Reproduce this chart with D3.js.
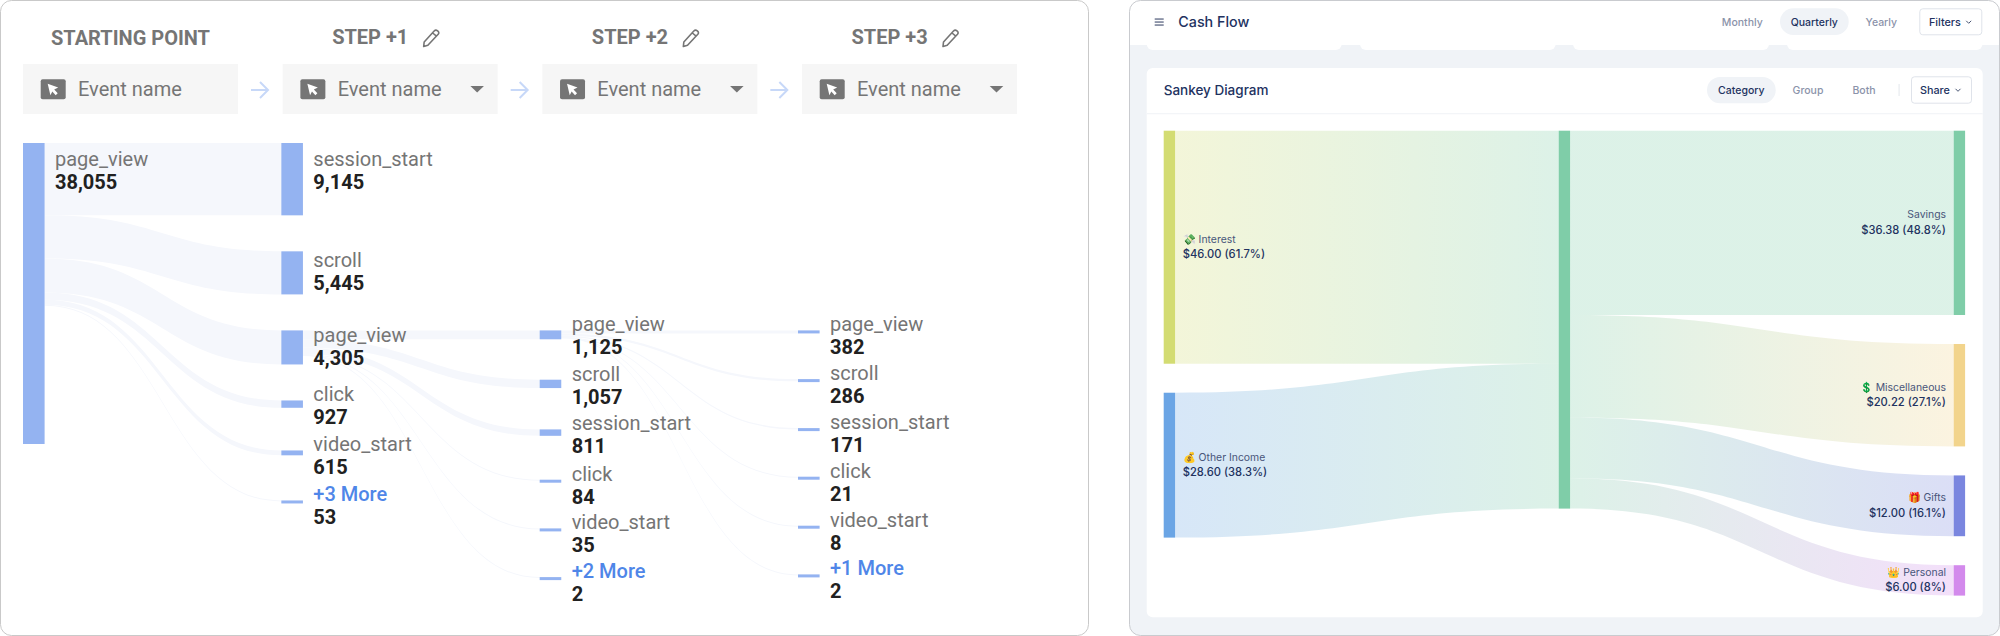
<!DOCTYPE html>
<html><head><meta charset="utf-8">
<style>html,body{margin:0;padding:0;background:#fff}svg{display:block}</style>
<script src="https://cdn.jsdelivr.net/npm/d3@7"></script>
</head><body><svg id="c" width="2000" height="636"></svg>
<script>
// ---------- funnel data ----------
const stepHeaders = ["STARTING POINT","STEP +1","STEP +2","STEP +3"];
const boxLabel = "Event name";
const startLabels = ["page_view"];
const startCounts = [38055];
const step1Labels = ["session_start","scroll","page_view","click","video_start","+3 More"];
const step1Counts = [9145,5445,4305,927,615,53];
const step2Labels = ["page_view","scroll","session_start","click","video_start","+2 More"];
const step2Counts = [1125,1057,811,84,35,2];
const step3Labels = ["page_view","scroll","session_start","click","video_start","+1 More"];
const step3Counts = [382,286,171,21,8,2];
// ---------- cash-flow data ----------
const appTitle = "Cash Flow", cardTitle = "Sankey Diagram";
const periodTabs = ["Monthly","Quarterly","Yearly"];
const viewTabs = ["Category","Group","Both"];
const incomeNames = ["💸 Interest","💰 Other Income"];
const incomeValues = [46.00,28.60];
const incomePct = [61.7,38.3];
const spendNames = ["Savings","💲 Miscellaneous","🎁 Gifts","👑 Personal"];
const spendValues = [36.38,20.22,12.00,6.00];
const spendPct = [48.8,27.1,16.1,8];

const svg = d3.select("#c");
const defs = svg.append("defs");
const ROBOTO = "Roboto, sans-serif", INTER = "Inter, sans-serif";
const NAVY = "#22325f", MUTED = "#8b93aa";

function txt(g,x,y,s,o={}){
  return g.append("text").attr("x",x).attr("y",y).text(s)
    .attr("font-family",o.f||INTER).attr("font-size",o.s||12)
    .attr("font-weight",o.w||400).attr("fill",o.c||"#000")
    .attr("text-anchor",o.a||"start");
}
const flow = d3.area().x(d=>d.x).y0(d=>d.y0).y1(d=>d.y1).curve(d3.curveBumpX);

// ================= LEFT PANEL: path exploration =================
const L = svg.append("g");
L.append("rect").attr("x",.5).attr("y",.5).attr("width",1088).attr("height",635)
  .attr("rx",11).attr("fill","#fff").attr("stroke","#c9c9c9");

const colX = d3.scaleLinear().domain([0,3]).range([23,798]);
const boxX = d3.scaleLinear().domain([0,3]).range([23,802]);
const hScale = d3.scaleLinear().domain([0,startCounts[0]]).range([0,301]);
const barW = 21.6, minBar = 3, GREY="#757575";
const nameDy = d3.scaleLinear().domain([3,9,34,43,72]).range([.8,.8,11.7,15.7,22.7]).clamp(true);
const pitch = [[],[50,50,50,50,50],[49.3,49.7,50.3,48.7,48.7],[48.7,49,48.6,49,48.7]];

function layoutCol(labels,counts,i,top0){
  let prev=null;
  return labels.map((name,k)=>{
    const h=Math.max(hScale(counts[k]),minBar);
    const top = prev? Math.max(prev.top+prev.h+36, prev.top+pitch[i][k-1]) : top0;
    const n={name,count:counts[k],top,h,x:colX(i)};
    prev=n; return n;
  });
}
const col0=layoutCol(startLabels,startCounts,0,143);
const col1=layoutCol(step1Labels,step1Counts,1,143);
const col2=layoutCol(step2Labels,step2Counts,2,col1[2].top);
const col3=layoutCol(step3Labels,step3Counts,3,col2[0].top);

function links(src,targets){
  let y=src.top;
  targets.forEach(t=>{
    const th=hScale(t.count), w=Math.max(th,1);
    const d=flow([{x:src.x+barW,y0:y,y1:y+w},{x:t.x,y0:t.top,y1:t.top+w}]);
    L.append("path").attr("d",d).attr("fill","#f5f7fc");
    y+=th;
  });
}
links(col0[0],col1);
links(col1[2],col2);
links(col2[0],col3);

[col0,col1,col2,col3].forEach(col=>col.forEach(n=>{
  L.append("rect").attr("x",n.x).attr("y",n.top).attr("width",barW).attr("height",n.h).attr("fill","#94b3f1");
  const ny=n.top+nameDy(n.h), more=n.name.startsWith("+");
  txt(L,n.x+32,ny,n.name,{f:ROBOTO,s:20,c:more?"#4f86e8":GREY,w:more?500:400});
  txt(L,n.x+32,ny+23.2,d3.format(",")(n.count),{f:ROBOTO,s:20,c:"#212121",w:700});
}));

stepHeaders.forEach((h,i)=>{
  const bx=boxX(i), cx=bx+107.5;
  if(i===0){
    txt(L,cx,45.3,h,{f:ROBOTO,s:20,w:700,c:GREY,a:"middle"});
  }else{
    txt(L,cx-58,43.7,h,{f:ROBOTO,s:20,w:700,c:GREY});
    L.append("path").attr("transform",`translate(${cx+32.5},29.5)`)
      .attr("d","M1.5,12.5 L11.5,1.5 Q13,0 15,1.3 Q17,3 15.5,4.7 L5.2,15.7 L1,17 Z M10,3.5 L13.8,6.6")
      .attr("fill","none").attr("stroke",GREY).attr("stroke-width",1.6).attr("stroke-linejoin","round");
  }
  L.append("rect").attr("x",bx).attr("y",64).attr("width",215).attr("height",50).attr("fill","#f6f6f6");
  const ig=L.append("g").attr("transform",`translate(${bx+17.7},79.3)`);
  ig.append("rect").attr("width",25).attr("height",20).attr("rx",2).attr("fill",GREY);
  ig.append("path").attr("d","M7,4.5 L17.5,8.3 L13.5,10.2 L17,14 L15,16 L11.6,12.2 L9.7,16 Z").attr("fill","#fff");
  txt(L,bx+55,96.3,boxLabel,{f:ROBOTO,s:20,c:GREY});
  if(i>0) L.append("path").attr("d",`M${bx+187.7},86 h13.6 l-6.8,6.4 Z`).attr("fill",GREY);
  if(i<3) L.append("path").attr("d",`M${bx+228},90 h16.5 M${bx+237},82 l8,8 l-8,8`)
    .attr("fill","none").attr("stroke","#c7d8f8").attr("stroke-width",2);
});

// ================= RIGHT PANEL: cash flow =================
const R = svg.append("g");
defs.append("clipPath").attr("id","rc").append("rect")
  .attr("x",1129.5).attr("y",.5).attr("width",870).attr("height",635).attr("rx",11);
const inner=R.append("g").attr("clip-path","url(#rc)");
inner.append("rect").attr("x",1129).attr("y",0).attr("width",871).attr("height",636).attr("fill","#f0f3f7");

[[1146.7,195],[1360,195.7],[1573,196],[1787,195.5]].forEach(([x,w])=>
  inner.append("rect").attr("x",x).attr("y",25).attr("width",w).attr("height",25).attr("rx",6).attr("fill","#fff"));
inner.append("rect").attr("x",1129).attr("y",0).attr("width",871).attr("height",45).attr("fill","#fff");
R.append("rect").attr("x",1129.5).attr("y",.5).attr("width",870).attr("height",635).attr("rx",11)
  .attr("fill","none").attr("stroke","#c9cbcf");

[19,22,25].forEach(y=>inner.append("rect").attr("x",1154.7).attr("y",y-.6).attr("width",9).attr("height",1.3).attr("fill","#5d6783"));
txt(inner,1178.3,27.3,appTitle,{s:14.3,w:500,c:NAVY});

inner.append("rect").attr("x",1780).attr("y",8.3).attr("width",68.7).attr("height",26.7).attr("rx",13.3).attr("fill","#f0f3f7");
const periodX=[1742.3,1814.3,1881.3];
periodTabs.forEach((t,i)=>txt(inner,periodX[i],26,t,{s:10.5,w:500,c:i===1?NAVY:MUTED,a:"middle"}));
function button(g,x,y,w,h,label,tx,chev){
  g.append("rect").attr("x",x+.5).attr("y",y+.5).attr("width",w-1).attr("height",h-1).attr("rx",3)
    .attr("fill","#fff").attr("stroke","#dfe3ea");
  txt(g,tx,y+17.8,label,{s:10.8,w:500,c:NAVY});
  g.append("path").attr("d",`M${chev-2.5},${y+12.5} l2.5,2.5 l2.5,-2.5`).attr("fill","none").attr("stroke","#4a5674").attr("stroke-width",1);
}
button(inner,1919.3,8.3,63,27,"Filters",1929,1968.7);

// card
inner.append("rect").attr("x",1146.7).attr("y",68).attr("width",836).attr("height",549.3).attr("rx",6).attr("fill","#fff");
inner.append("rect").attr("x",1146.7).attr("y",113).attr("width",836).attr("height",1.3).attr("fill","#f3f5f8");
txt(inner,1163.7,95,cardTitle,{s:13.5,w:500,c:NAVY});
inner.append("rect").attr("x",1707).attr("y",77).attr("width",68.7).attr("height",26.3).attr("rx",13.1).attr("fill","#f0f3f7");
const viewX=[1741.3,1808,1864];
viewTabs.forEach((t,i)=>txt(inner,viewX[i],94.3,t,{s:10.5,w:500,c:i===0?NAVY:MUTED,a:"middle"}));
inner.append("rect").attr("x",1898.5).attr("y",84).attr("width",1.2).attr("height",12).attr("fill","#e8ebf0");
button(inner,1911,76.3,61,27.4,"Share",1920,1958);

// sankey
const sx = d3.scalePoint().domain([0,1,2]).range([1163.7,1953.7]);
const total = d3.sum(incomeValues);
const sh = d3.scaleLinear().domain([0,total]).range([0,377.9]);
const nodeW=11.4, pad=29, sTop=130.7;
const midColor="#7fcda8";
const incomeColors=["#d3dc72","#6ba5e5"];
const spendColors=["#7fcda8","#f2d48c","#7a86df","#d38aec"];
function stack(values,colors,names,pcts,col){
  let y=sTop;
  return values.map((v,i)=>{const n={v,top:y,h:sh(v),c:colors[i],name:names[i],pct:pcts[i],x:sx(col)};y+=n.h+pad;return n;});
}
const lefts=stack(incomeValues,incomeColors,incomeNames,incomePct,0);
const rights=stack(spendValues,spendColors,spendNames,spendPct,2);
const mid={x:sx(1),top:sTop,h:sh(total),c:midColor};
function ribbon(id,x0,x1,c0,c1,a0,a1,h){
  const g=defs.append("linearGradient").attr("id",id).attr("gradientUnits","userSpaceOnUse")
    .attr("x1",x0).attr("x2",x1).attr("y1",0).attr("y2",0);
  g.append("stop").attr("offset","0%").attr("stop-color",c0);
  g.append("stop").attr("offset","100%").attr("stop-color",c1);
  inner.append("path").attr("d",flow([{x:x0,y0:a0,y1:a0+h},{x:x1,y0:a1,y1:a1+h}]))
    .attr("fill",`url(#${id})`).attr("opacity",.27);
}
let my=sTop;
lefts.forEach((n,i)=>{ribbon("li"+i,n.x+nodeW,mid.x,n.c,mid.c,n.top,my,n.h);my+=n.h;});
my=sTop;
rights.forEach((n,i)=>{ribbon("ro"+i,mid.x+nodeW,n.x,mid.c,n.c,my,n.top,n.h);my+=n.h;});
[...lefts,mid,...rights].forEach(n=>inner.append("rect").attr("x",n.x).attr("y",n.top).attr("width",nodeW).attr("height",n.h).attr("fill",n.c));
const money=d3.format("$.2f");
lefts.forEach(n=>{
  const c=n.top+n.h/2;
  txt(inner,n.x+19,c-4.4,n.name,{s:10.4,c:"#48557a"});
  txt(inner,n.x+19,c+10.7,`${money(n.v)} (${n.pct}%)`,{s:11.2,w:500,c:NAVY});
});
rights.forEach(n=>{
  const c=n.top+n.h/2;
  txt(inner,n.x-7.7,c-4.4,n.name,{s:10.4,c:"#48557a",a:"end"});
  txt(inner,n.x-7.7,c+10.7,`${money(n.v)} (${n.pct}%)`,{s:11.2,w:500,c:NAVY,a:"end"});
});
</script></body></html>
